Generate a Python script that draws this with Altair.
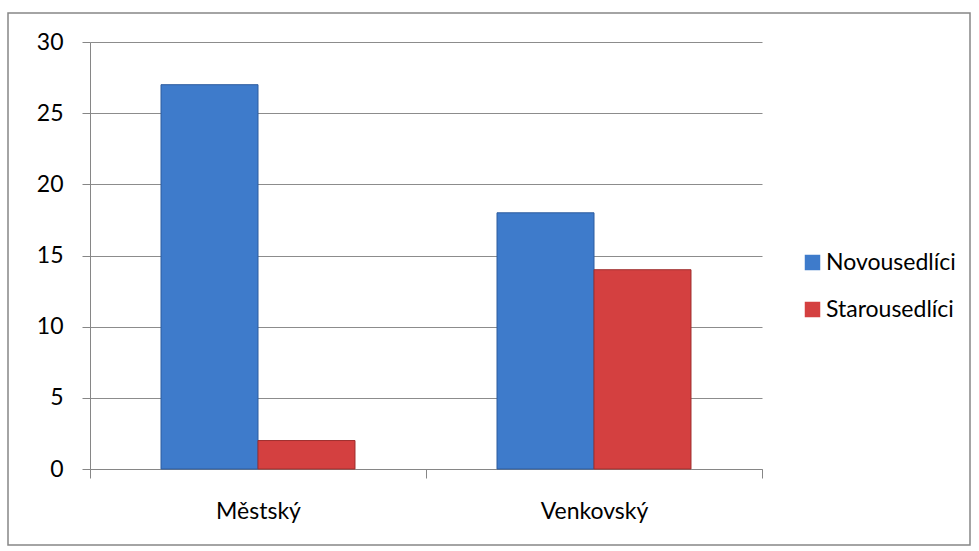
import altair as alt
import pandas as pd

categories = ["Městský", "Městský", "Venkovský", "Venkovský"]
series = ["Novousedlíci", "Starousedlíci", "Novousedlíci", "Starousedlíci"]
values = [27, 2, 18, 14]
series_order = ["Novousedlíci", "Starousedlíci"]
fill_colors = ["#3E7BCB", "#D44040"]
stroke_colors = ["#2D5C9E", "#9E2E2D"]
y_ticks = [0, 5, 10, 15, 20, 25, 30]

df = pd.DataFrame({"cat": categories, "series": series, "value": values})

FONT = "Lato"
FS = 23
W, H = 672, 427

bars = alt.Chart(df).mark_bar(strokeWidth=1).encode(
    x=alt.X("cat:N", title=None, sort=["Městský", "Venkovský"],
            scale=alt.Scale(paddingInner=0, paddingOuter=0),
            axis=alt.Axis(labelAngle=0, tickBand="extent", tickSize=9,
                          labelPadding=22, labelFontSize=FS, labelFont=FONT,
                          labelColor="#000000", domainColor="#868686",
                          tickColor="#868686", grid=False)),
    xOffset=alt.XOffset("series:N", sort=series_order,
                        scale=alt.Scale(paddingInner=0, paddingOuter=0.732)),
    y=alt.Y("value:Q", title=None,
            scale=alt.Scale(domain=[0, 30], nice=False),
            axis=alt.Axis(values=y_ticks, tickSize=8, labelPadding=19,
                          labelFontSize=FS, labelFont=FONT, labelColor="#000000",
                          domainColor="#868686", tickColor="#868686",
                          gridColor="#8C8C8C", gridWidth=1)),
    color=alt.Color("series:N", sort=series_order,
                    scale=alt.Scale(domain=series_order, range=fill_colors),
                    legend=alt.Legend(title=None, orient="none", legendX=711,
                                      legendY=209, symbolType="square",
                                      symbolSize=240, symbolStrokeWidth=0,
                                      labelFontSize=FS, labelFont=FONT,
                                      labelColor="#000000", rowPadding=23,
                                      labelOffset=2)),
    stroke=alt.Stroke("series:N", sort=series_order,
                      scale=alt.Scale(domain=series_order, range=stroke_colors),
                      legend=None),
)

border = alt.Chart(pd.DataFrame({"a": [0]})).mark_rect(
    fill=None, stroke="#868686", strokeWidth=1.5
).encode(
    x=alt.value(-82), x2=alt.value(880), y=alt.value(-29), y2=alt.value(503)
)

chart = alt.layer(bars, border).properties(
    width=W, height=H,
    autosize=alt.AutoSizeParams(type="none"),
    padding={"left": 90, "top": 42, "right": 979 - 90 - W, "bottom": 551 - 42 - H},
    background="#FFFFFF",
).configure_view(stroke=None)

chart.save("out.html", embed_options={"renderer": "svg", "actions": False})
